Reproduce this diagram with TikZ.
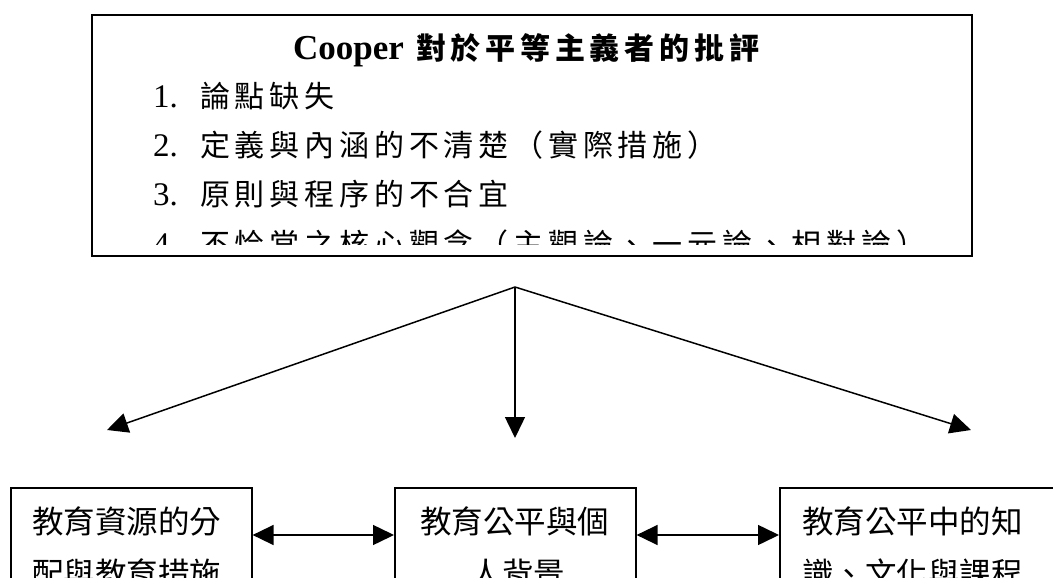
\documentclass[tikz,border=0pt]{standalone}
\usepackage{fontspec}
\setmainfont{Liberation Serif}
\newfontfamily\cjk{Noto Sans CJK TC}
\newfontfamily\cjksp{Noto Sans CJK TC}[LetterSpace=16]
\usetikzlibrary{arrows.meta}
\tikzset{
  box/.style={draw=black, line width=1.6bp, rectangle, inner sep=0pt, anchor=north west},
  txt/.style={inner sep=0pt, anchor=base west},
  ctxt/.style={inner sep=0pt, anchor=base},
  conn/.style={draw=black, line width=1.5bp, -{Triangle[length=21bp,width=20bp]}},
  dconn/.style={draw=black, line width=1.5bp, {Triangle[length=21bp,width=20bp]}-{Triangle[length=21bp,width=20bp]}},
  topfont/.style={font=\fontsize{30bp}{36bp}\selectfont},
  numfont/.style={font=\fontsize{33bp}{36bp}\selectfont},
  botfont/.style={font=\fontsize{31.5bp}{36bp}\selectfont\cjk},
}
\begin{document}
\begin{tikzpicture}[x=1bp,y=-1bp]
\useasboundingbox (0,0) rectangle (1053,578);
\fill[white] (0,0) rectangle (1053,578);
\clip (0,0) rectangle (1053,578);

% top box
\node[box, minimum width=880bp, minimum height=241bp] (top) at (91,14) {};
\node[txt, font=\fontsize{35bp}{40bp}\selectfont\bfseries] (title) at (293,60)
  {Cooper\hspace{12bp}{\fontsize{30bp}{36bp}\selectfont\cjksp\bfseries 對於平等主義者的批評}};

\node[txt, numfont] (n1) at (153,108) {1.};
\node[txt, topfont] (l1) at (200,108) {\cjksp 論點缺失};
\node[txt, numfont] (n2) at (153,157) {2.};
\node[txt, topfont] (l2) at (200,157) {\cjksp 定義與內涵的不清楚（實際措施）};
\node[txt, numfont] (n3) at (153,206) {3.};
\node[txt, topfont] (l3) at (200,206) {\cjksp 原則與程序的不合宜};
\begin{scope}
  \clip (91,14) rectangle (971,245);
  \node[txt, numfont] (n4) at (153,256) {4.};
  \node[txt, topfont] (l4) at (200,256) {\cjksp 不恰當之核心觀念（主觀論、一元論、相對論）};
\end{scope}

% apex and arrows
\coordinate (apex) at (515,287);
\coordinate (t1) at (107,430);
\coordinate (t2) at (515,438);
\coordinate (t3) at (971,430);
\draw[conn] (apex) -- (t1);
\draw[conn] (apex) -- (t2);
\draw[conn] (apex) -- (t3);

% bottom boxes
\node[box, minimum width=241bp, minimum height=160bp] (b1) at (10,487) {};
\node[box, minimum width=241bp, minimum height=160bp] (b2) at (394,487) {};
\node[box, minimum width=290bp, minimum height=160bp] (b3) at (779,487) {};

\node[txt, botfont] (b1a) at (32,533) {教育資源的分};
\node[txt, botfont] (b1b) at (32,585) {配與教育措施};
\node[txt, botfont] (b2a) at (420,533) {教育公平與個};
\node[ctxt, botfont] (b2b) at (518,585) {人背景};
\node[txt, botfont] (b3a) at (802,533) {教育公平中的知};
\node[txt, botfont] (b3b) at (802,585) {識、文化與課程};

\draw[dconn] ([yshift=-48bp]b1.north east) -- ([yshift=-48bp]b2.north west);
\draw[dconn] ([yshift=-48bp]b2.north east) -- ([yshift=-48bp]b3.north west);
\end{tikzpicture}
\end{document}
